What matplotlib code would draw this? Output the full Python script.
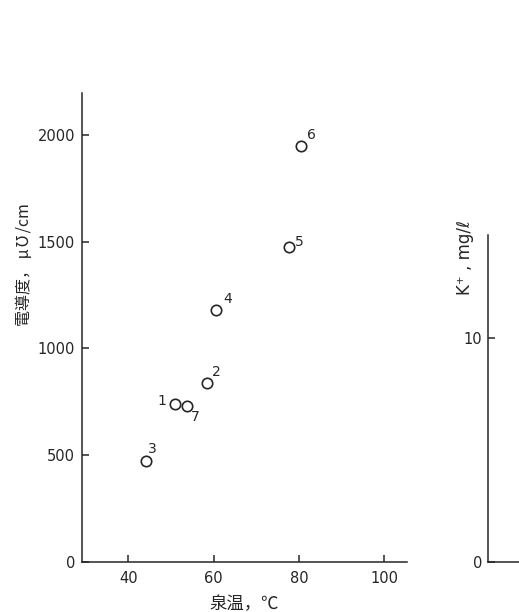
import matplotlib
matplotlib.use("Agg")
import matplotlib.pyplot as plt

plt.rcParams['font.family'] = ['DejaVu Sans', 'Noto Sans CJK JP']

# Data
site_ids = ["1", "2", "3", "4", "5", "6", "7"]
temperature_c = [50.9, 58.4, 44.1, 60.6, 77.7, 80.6, 53.7]
conductivity = [740, 835, 470, 1180, 1474, 1950, 730]
x_ticks = [40, 60, 80, 100]
y_ticks = [0, 500, 1000, 1500, 2000]
k_ticks = [0, 10]

# label offsets in pixels (dx, dy up)
label_offsets = {"1": (-13, 3), "2": (10, 11), "3": (6, 12), "4": (11, 11),
                 "5": (10, 5), "6": (10, 11), "7": (8, -11)}

ink = "#262626"
fig = plt.figure(figsize=(5.19, 6.12), dpi=100)
fig.patch.set_facecolor("white")

ax = fig.add_axes([82/519, (612-561.7)/612, (406.7-82)/519, (561.7-93)/612])
ax.plot(temperature_c, conductivity, linestyle="none", marker="o", ms=7.5,
        mfc="none", mec=ink, mew=1.2)
for sid, xv, yv in zip(site_ids, temperature_c, conductivity):
    dx, dy = label_offsets[sid]
    ax.annotate(sid, (xv, yv), xytext=(dx, dy), textcoords="offset pixels",
                ha="center", va="center", fontsize=10, color=ink)

ax.set_xlim(29.1, 105.3)
ax.set_ylim(0, 2196)
ax.set_xticks(x_ticks)
ax.set_yticks(y_ticks)
ax.set_xticklabels([str(v) for v in x_ticks])
ax.set_yticklabels([str(v) for v in y_ticks])
for s in ["top", "right"]:
    ax.spines[s].set_visible(False)
for s in ["left", "bottom"]:
    ax.spines[s].set_linewidth(1.1)
    ax.spines[s].set_color(ink)
ax.tick_params(direction="in", length=5, width=1.1, colors=ink,
               labelsize=10.5, pad=5)
ax.tick_params(axis="x", pad=7)
ax.set_xlabel("泉温，℃", fontsize=12.5, color=ink,
              family=["Noto Sans CJK JP", "DejaVu Sans"], labelpad=6)
ax.set_ylabel("電導度， μ℧/cm", fontsize=11.5, color=ink,
              family=["Noto Sans CJK JP", "DejaVu Sans"])
ax.yaxis.set_label_coords(-0.15, 0.633)

ax2 = fig.add_axes([488/519, (612-562)/612, 1 - 488/519, (562-235)/612])
ax2.set_xlim(0, 1)
ax2.set_ylim(0, 14.6)
ax2.set_xticks([])
ax2.set_yticks(k_ticks)
ax2.set_yticklabels([str(v) for v in k_ticks])
for s in ["top", "right"]:
    ax2.spines[s].set_visible(False)
for s in ["left", "bottom"]:
    ax2.spines[s].set_linewidth(1.1)
    ax2.spines[s].set_color(ink)
ax2.tick_params(direction="in", length=5, width=1.1, colors=ink,
                labelsize=10.5, pad=4)
ax2.set_ylabel("K⁺ , mg/ℓ", fontsize=12, color=ink)
ax2.yaxis.set_label_coords(-0.45, 0.93)

fig.savefig("out.png", dpi=100, facecolor="white")
